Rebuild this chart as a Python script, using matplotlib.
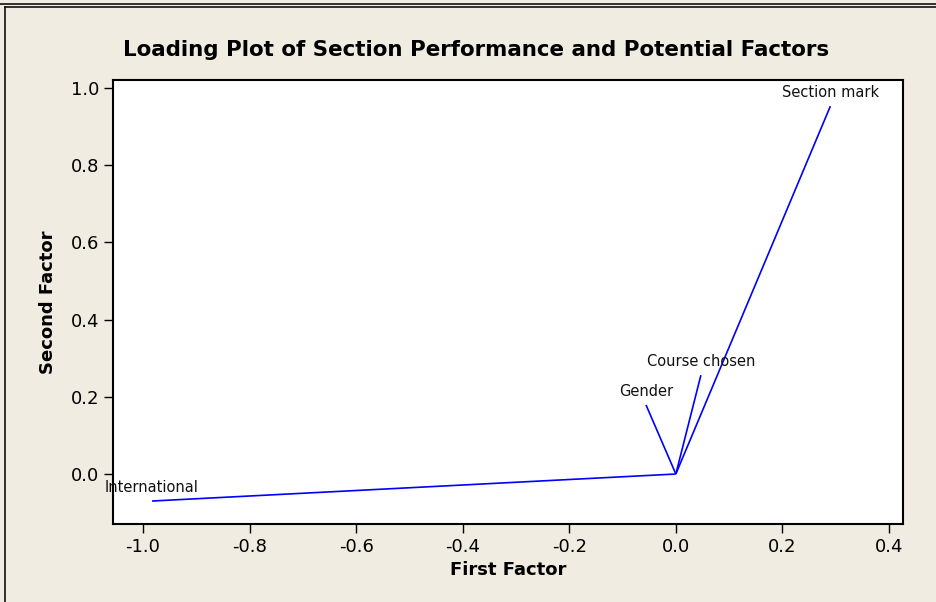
import matplotlib
matplotlib.use("Agg")
import matplotlib.pyplot as plt
from matplotlib.lines import Line2D

# Загрузки факторов (первый и второй фактор)
variables = ["Section mark", "Course chosen", "Gender", "International"]
first_factor = [0.290, 0.047, -0.056, -0.983]
second_factor = [0.953, 0.256, 0.179, -0.070]

x_ticks = [-1.0, -0.8, -0.6, -0.4, -0.2, 0.0, 0.2, 0.4]
y_ticks = [0.0, 0.2, 0.4, 0.6, 0.8, 1.0]

bg = "#F0ECE2"
plt.rcParams["axes.unicode_minus"] = False
plt.rcParams["font.family"] = "DejaVu Sans"

W, H = 936, 602
fig = plt.figure(figsize=(W / 100, H / 100), dpi=100, facecolor=bg)
ax = fig.add_axes([113 / W, 1 - 524 / H, 790 / W, 444 / H])
ax.set_facecolor("white")

for name, x, y in zip(variables, first_factor, second_factor):
    ax.plot([0, x], [0, y], color="#0000FF", linewidth=1.2, solid_capstyle="butt")
    ax.annotate(name, (x, y), xytext=(0, 6.5), textcoords="offset points",
                ha="center", va="baseline", fontsize=10.5, color="#111111")

ax.set_xlim(-1.0563, 0.4263)
ax.set_ylim(-0.1295, 1.0207)
ax.set_xticks(x_ticks)
ax.set_yticks(y_ticks)
ax.set_xticklabels([f"{t:.1f}" for t in x_ticks])
ax.set_yticklabels([f"{t:.1f}" for t in y_ticks])
ax.tick_params(direction="out", length=6.5, width=1, labelsize=13, pad=3.5)

for s in ax.spines.values():
    s.set_linewidth(1.5)

ax.set_xlabel("First Factor", fontsize=13, fontweight="bold", labelpad=4)
ax.set_ylabel("Second Factor", fontsize=13, fontweight="bold", labelpad=10)
fig.text(476 / W, 1 - 50 / H, "Loading Plot of Section Performance and Potential Factors",
         ha="center", va="center", fontsize=15.4, fontweight="bold")

# Рамка окна как в Minitab
fig.add_artist(Line2D([0, 1], [1 - 3.5 / H, 1 - 3.5 / H], transform=fig.transFigure,
                      color="#111111", linewidth=1.2))
fig.add_artist(Line2D([4.5 / W, 1], [1 - 6.5 / H, 1 - 6.5 / H], transform=fig.transFigure,
                      color="#111111", linewidth=1.2))
fig.add_artist(Line2D([4.5 / W, 4.5 / W], [0, 1 - 6.5 / H], transform=fig.transFigure,
                      color="#111111", linewidth=1.2))

fig.savefig("out.png", dpi=100, facecolor=bg)
